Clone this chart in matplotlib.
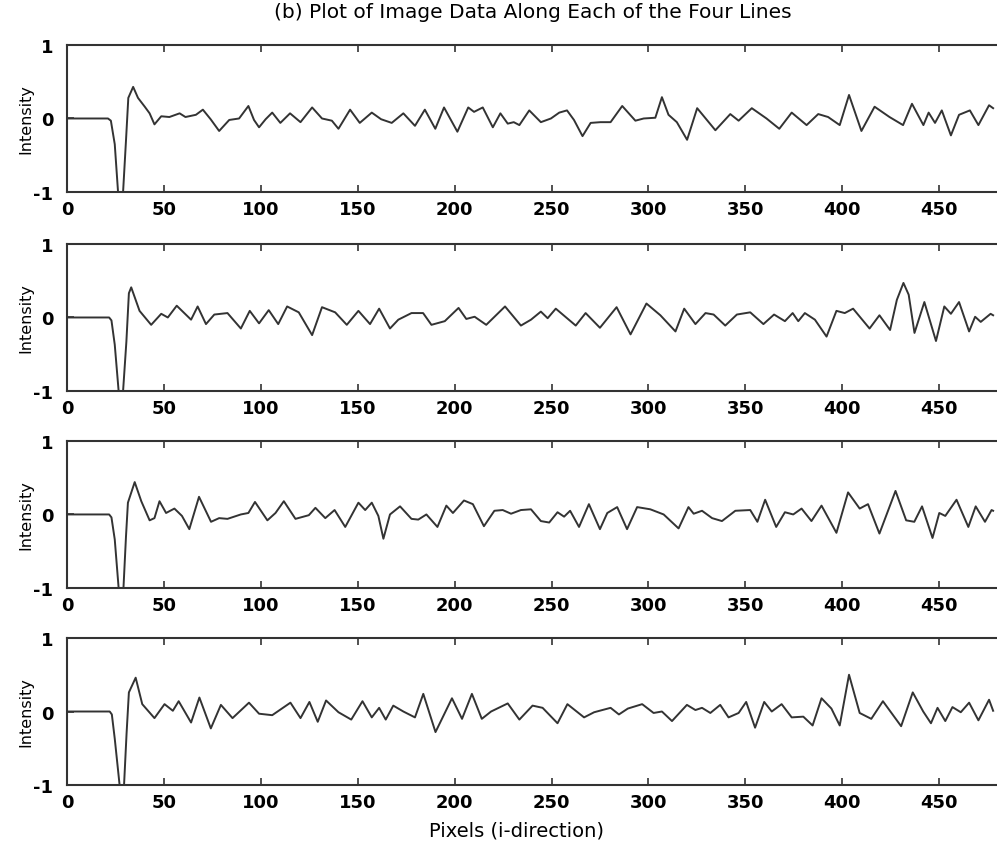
import matplotlib
matplotlib.use('Agg')
import matplotlib.pyplot as plt

plt.rcParams['font.family'] = ['DejaVu Sans']
plt.rcParams['axes.unicode_minus'] = False

# (pixel, intensity) pairs
line1 = [(0, 0), (21, 0), (22.5, -0.03), (24.5, -0.35), (26.2, -1.0), (28.8, -1.0), (30.3, -0.3),
         (31.5, 0.28), (34, 0.43), (36.5, 0.28), (40, 0.16), (42.5, 0.07), (45, -0.08), (48.5, 0.03),
         (52.7, 0.02), (58, 0.07), (61, 0.02), (66.4, 0.05), (70, 0.12), (74, -0.01), (78.4, -0.17),
         (83.6, -0.02), (88.7, 0), (93.5, 0.17), (96.4, -0.02), (99, -0.12), (102.4, -0.01),
         (105.8, 0.08), (110, -0.06), (115, 0.07), (120.4, -0.05), (126.4, 0.15), (131.5, 0),
         (136.6, -0.03), (140, -0.14), (146, 0.12), (151, -0.06), (157.2, 0.08), (162, -0.01),
         (167.5, -0.06), (173.5, 0.07), (179.5, -0.1), (184.6, 0.12), (190, -0.14), (194.5, 0.15),
         (201.4, -0.18), (207, 0.15), (210, 0.09), (214.5, 0.15), (219.7, -0.12), (223.6, 0.07),
         (227.4, -0.07), (230.5, -0.05), (233.4, -0.09), (238.5, 0.11), (244.5, -0.05), (249.7, 0),
         (254, 0.08), (258, 0.11), (261.6, -0.02), (266, -0.24), (270.2, -0.06), (275.3, -0.05),
         (280.5, -0.05), (286.5, 0.17), (293.3, -0.03), (297.6, 0), (303.6, 0.01), (307, 0.29),
         (310.4, 0.05), (314.7, -0.05), (320, -0.29), (325.2, 0.14), (334.6, -0.16), (342.3, 0.06),
         (346.6, -0.03), (353.4, 0.14), (361, 0), (367.6, -0.14), (374, 0.08), (381.7, -0.09),
         (387.7, 0.06), (392.8, 0.02), (398.8, -0.09), (403.6, 0.32), (410, -0.17), (416.8, 0.16),
         (424.5, 0.02), (431.5, -0.09), (436.1, 0.2), (442, -0.09), (444.7, 0.08), (448, -0.06),
         (451.5, 0.11), (456.2, -0.23), (460.4, 0.05), (466, 0.11), (470.4, -0.09), (475.9, 0.18),
         (478, 0.14)]

line2 = [(0, 0), (21.6, 0), (22.8, -0.04), (24.5, -0.37), (26.5, -1.0), (28.8, -1.0), (30.5, -0.33),
         (31.8, 0.33), (33, 0.41), (37.3, 0.09), (43.3, -0.1), (48.5, 0.05), (51.9, 0), (56.5, 0.16),
         (63.9, -0.03), (67.3, 0.15), (71.6, -0.09), (75.9, 0.04), (82.7, 0.06), (89.6, -0.15),
         (94.2, 0.09), (99, -0.08), (104, 0.1), (108.9, -0.09), (113.5, 0.15), (119.5, 0.07),
         (126.4, -0.24), (131.5, 0.14), (138.3, 0.07), (144.3, -0.1), (150.3, 0.09), (156.3, -0.09),
         (161, 0.12), (166.6, -0.15), (170.9, -0.03), (177.7, 0.06), (183.7, 0.06), (188, -0.1),
         (194.9, -0.05), (202, 0.13), (206, -0.02), (210.3, 0.01), (216.3, -0.1), (226, 0.15),
         (234.2, -0.11), (239.4, -0.03), (244.5, 0.08), (248, -0.01), (252.2, 0.12), (262.5, -0.11),
         (267.6, 0.06), (275, -0.14), (283.6, 0.14), (290.8, -0.23), (299, 0.19), (306.2, 0.03),
         (314, -0.19), (318.5, 0.12), (324.3, -0.09), (329.5, 0.06), (333.7, 0.04), (339.7, -0.11),
         (345.7, 0.04), (352.6, 0.07), (359.4, -0.09), (364.9, 0.04), (370.5, -0.05), (374.5, 0.06),
         (377.4, -0.05), (380.8, 0.06), (386, -0.03), (392, -0.26), (397.1, 0.09), (401.4, 0.06),
         (405.7, 0.12), (414.2, -0.15), (419.3, 0.03), (424.8, -0.17), (428.3, 0.24), (431.7, 0.47),
         (434.4, 0.31), (437.4, -0.21), (442.5, 0.21), (448.5, -0.32), (452.8, 0.15), (456.2, 0.05),
         (460.4, 0.21), (465.6, -0.19), (468.7, 0.01), (471.6, -0.06), (476.7, 0.05), (478, 0.03)]

line3 = [(0, 0), (21.6, 0), (22.8, -0.04), (24.5, -0.34), (26.5, -1.0), (29, -1.0), (30.3, -0.3),
         (31.3, 0.16), (34.8, 0.44), (38.2, 0.18), (42.5, -0.08), (45, -0.05), (47.6, 0.18), (51, 0.02),
         (55.3, 0.08), (59.2, -0.02), (63, -0.2), (68, 0.24), (74.2, -0.1), (78.4, -0.05), (82.7, -0.06),
         (89.6, 0), (93.5, 0.02), (96.9, 0.17), (103.3, -0.08), (107.5, 0.02), (111.8, 0.18),
         (117.8, -0.06), (124.7, -0.01), (128.1, 0.09), (133.2, -0.05), (138, 0.06), (143.5, -0.17),
         (150.3, 0.16), (153.8, 0.06), (157.2, 0.16), (160.6, -0.02), (163.2, -0.33), (166.6, 0),
         (171.8, 0.11), (177.7, -0.06), (181.2, -0.07), (185.4, 0), (191.1, -0.17), (195.7, 0.12),
         (199.1, 0.02), (204.8, 0.19), (209.4, 0.14), (215.1, -0.16), (220.5, 0.05), (224.8, 0.06),
         (229.1, 0.01), (234.2, 0.06), (239.4, 0.07), (244.5, -0.09), (248.8, -0.11), (253.1, 0.03),
         (256.5, -0.03), (259.6, 0.05), (264.2, -0.17), (269.3, 0.14), (275, -0.2), (278.8, 0.02),
         (283.9, 0.1), (289, -0.2), (294.2, 0.1), (301, 0.07), (307.9, 0), (315.6, -0.19), (320.7, 0.1),
         (323.4, 0.01), (327.7, 0.05), (332.9, -0.05), (338, -0.09), (344.9, 0.05), (352.6, 0.06),
         (356.3, -0.1), (360.3, 0.2), (366, -0.17), (370.5, 0.03), (374.8, 0), (379.1, 0.08),
         (384.2, -0.09), (389.4, 0.12), (397.1, -0.25), (403.1, 0.3), (409.1, 0.08), (413.4, 0.14),
         (419.3, -0.26), (427.6, 0.32), (433.1, -0.08), (437.3, -0.1), (441.3, 0.11), (446.7, -0.32),
         (450.2, 0.02), (453.3, -0.02), (459.1, 0.2), (465.2, -0.17), (469, 0.11), (473.8, -0.1),
         (477.2, 0.06), (478, 0.05)]

line4 = [(0, 0), (21.9, 0), (23, -0.04), (24.5, -0.37), (27, -1.0), (29.3, -1.0), (30.6, -0.3),
         (31.8, 0.26), (35.3, 0.46), (38.7, 0.1), (45, -0.09), (50.2, 0.1), (54.5, 0.01), (57.5, 0.14),
         (63.9, -0.15), (68.2, 0.19), (74.1, -0.23), (79.3, 0.09), (85.3, -0.09), (93.8, 0.12),
         (99, -0.03), (105.8, -0.05), (115.2, 0.12), (120.4, -0.09), (125, 0.13), (129.3, -0.14),
         (133.6, 0.15), (140, -0.01), (146.6, -0.11), (152.4, 0.14), (157.2, -0.08), (161, 0.05),
         (164.4, -0.11), (168.3, 0.08), (173.5, 0), (179.5, -0.08), (183.8, 0.24), (190.1, -0.28),
         (198.6, 0.18), (203.8, -0.1), (208.9, 0.24), (214, -0.1), (218.8, 0), (227.4, 0.11),
         (233.4, -0.11), (240.2, 0.08), (245.4, 0.05), (253.1, -0.16), (258.2, 0.1), (266.8, -0.08),
         (272, -0.01), (280.5, 0.05), (284.8, -0.04), (289.4, 0.04), (296.8, 0.1), (302.7, -0.02),
         (307, 0), (312.2, -0.13), (319.9, 0.09), (324.3, 0.02), (327.7, 0.05), (332, -0.02),
         (337.1, 0.09), (341.4, -0.08), (346.6, -0.02), (350.5, 0.13), (355.1, -0.22), (359.8, 0.13),
         (363.7, 0), (368.8, 0.1), (374, -0.08), (380, -0.07), (384.8, -0.19), (389.4, 0.18),
         (394.5, 0.04), (398.8, -0.19), (403.6, 0.5), (409.1, -0.02), (415.1, -0.1), (421.1, 0.14),
         (430.5, -0.2), (436.5, 0.26), (441.9, 0), (445.9, -0.16), (449.3, 0.05), (453.3, -0.13),
         (457, 0.06), (461.3, -0.01), (465.6, 0.12), (470.4, -0.12), (475.9, 0.16), (478, 0.01)]

lines = [line1, line2, line3, line4]
x_ticks = [0, 50, 100, 150, 200, 250, 300, 350, 400, 450]
y_ticks = [-1, 0, 1]

fig = plt.figure(figsize=(9.97, 8.45), dpi=100)

# axes boxes in figure fraction (left, bottom, width, height)
bottoms = [0.7716, 0.5361, 0.3030, 0.0698]
axes = []
for b, data in zip(bottoms, lines):
    ax = fig.add_axes([0.0675, b, 0.9325, 0.174])
    xs, ys = zip(*data)
    ax.plot(xs, ys, color='#333333', linewidth=1.4)
    ax.set_xlim(0, 480)
    ax.set_ylim(-1, 1)
    ax.set_xticks(x_ticks)
    ax.set_yticks(y_ticks)
    ax.tick_params(direction='in', top=True, right=False, length=5, width=1.2,
                   color='#333333', labelsize=13)
    ax.tick_params(axis='x', pad=6)
    ax.tick_params(axis='y', pad=10)
    for lab in ax.get_xticklabels() + ax.get_yticklabels():
        lab.set_fontweight('bold')
    ax.spines['right'].set_visible(False)
    for s in ['top', 'bottom', 'left']:
        ax.spines[s].set_linewidth(1.5)
        ax.spines[s].set_color('#333333')
    ax.set_ylabel('Intensity', fontsize=11.5, labelpad=0)
    axes.append(ax)

fig.text(0.534, 1 - 12 / 845, '(b) Plot of Image Data Along Each of the Four Lines',
         fontsize=14.5, ha='center', va='center')
fig.text(0.518, 1 - 831 / 845, 'Pixels (i-direction)', fontsize=14, ha='center', va='center')

plt.savefig('out.png', dpi=100)
